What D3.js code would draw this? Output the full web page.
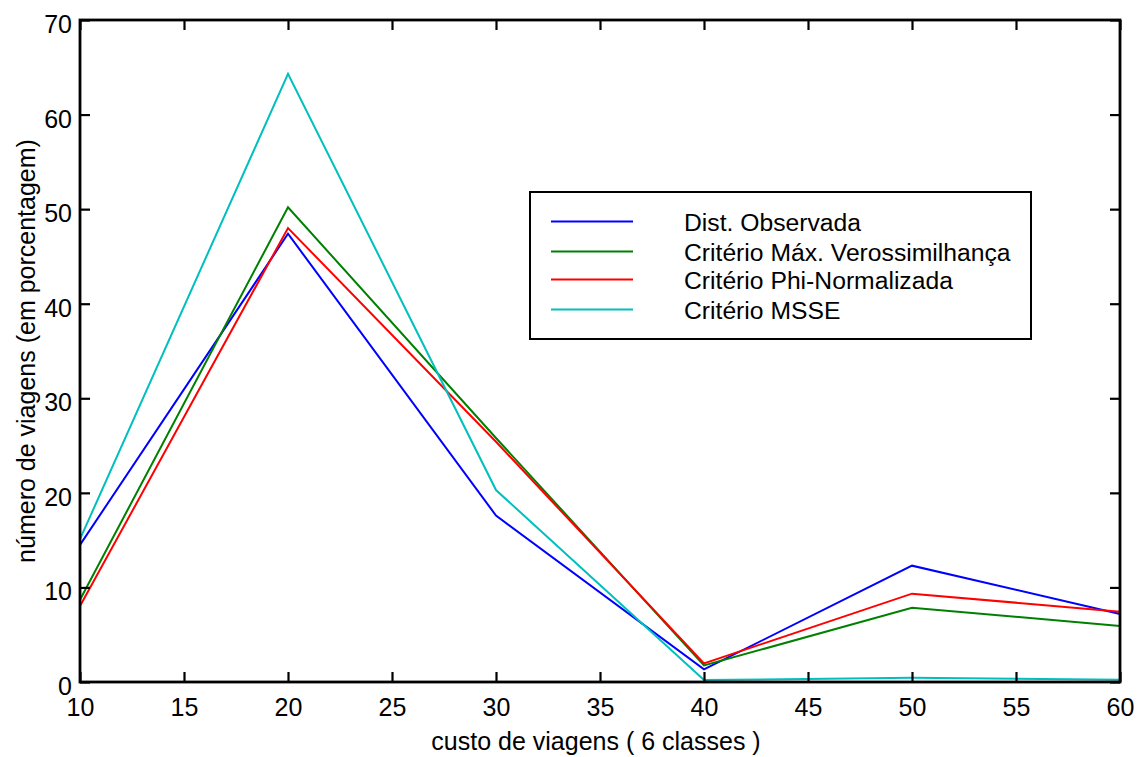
<!DOCTYPE html>
<html><head><meta charset="utf-8">
<script src="https://cdn.jsdelivr.net/npm/d3@7"></script>
<style>
html,body{margin:0;padding:0;background:#fff;}
text{font-family:"Liberation Sans",Arial,Helvetica,sans-serif;fill:#000;}
</style></head>
<body>
<svg id="chart" width="1140" height="757"></svg>
<script>
const xValues = [10, 20, 30, 40, 50, 60];
const observada = [14.5, 47.4, 17.6, 1.33, 12.3, 7.2];
const maxVerossimilhanca = [8.7, 50.2, 25.8, 1.75, 7.86, 5.92];
const phiNormalizada = [8.04, 48.0, 25.4, 1.97, 9.34, 7.43];
const msse = [15.1, 64.3, 20.3, 0.2, 0.45, 0.25];
const seriesNames = ["Dist. Observada", "Critério Máx. Verossimilhança", "Critério Phi-Normalizada", "Critério MSSE"];
const seriesColors = ["#0000ff", "#008000", "#ff0000", "#00bfbf"];
const xTicks = [10, 15, 20, 25, 30, 35, 40, 45, 50, 55, 60];
const yTicks = [0, 10, 20, 30, 40, 50, 60, 70];
const xLabel = "custo de viagens ( 6 classes )";
const yLabel = "número de viagens (em porcentagem)";

const seriesValues = [observada, maxVerossimilhanca, phiNormalizada, msse];

const svg = d3.select("#chart");
const L = 80, R = 1120, T = 20, B = 682;
const x = d3.scaleLinear().domain([10, 60]).range([L, R]);
const y = d3.scaleLinear().domain([0, 70]).range([B, T]);
const fs = 25;

// data lines
const line = d3.line().x((d, i) => x(xValues[i])).y(d => y(d));
seriesValues.forEach((vals, k) => {
  svg.append("path").datum(vals).attr("d", line)
    .attr("fill", "none").attr("stroke", seriesColors[k]).attr("stroke-width", 2)
    .attr("stroke-linejoin", "miter");
});

// axes with inward ticks
const tickLen = 10;
const axB = d3.axisBottom(x).tickValues(xTicks).tickSizeInner(-tickLen).tickSizeOuter(0).tickPadding(16).tickFormat(d3.format("d"));
const axT = d3.axisTop(x).tickValues(xTicks).tickSizeInner(-tickLen).tickSizeOuter(0).tickFormat("");
const axL = d3.axisLeft(y).tickValues(yTicks).tickSizeInner(-tickLen).tickSizeOuter(0).tickPadding(8).tickFormat(d3.format("d"));
const axR = d3.axisRight(y).tickValues(yTicks).tickSizeInner(-tickLen).tickSizeOuter(0).tickFormat("");

function style(g) {
  g.select(".domain").remove();
  g.selectAll(".tick line").attr("stroke", "#000").attr("stroke-width", 2.2);
  g.selectAll("text").style("font-size", fs + "px").attr("fill", "#000");
}
svg.append("g").attr("transform", `translate(0,${B})`).call(axB).call(style)
  .selectAll("text").attr("dy", "0.71em");
svg.append("g").attr("transform", `translate(0,${T})`).call(axT).call(style);
svg.append("g").attr("transform", `translate(${L},0)`).call(axL).call(style)
  .selectAll("text").attr("dy", "0.5em");
svg.append("g").attr("transform", `translate(${R},0)`).call(axR).call(style);

// frame
svg.append("rect").attr("x", L).attr("y", T).attr("width", R - L).attr("height", B - T)
  .attr("fill", "none").attr("stroke", "#000").attr("stroke-width", 2.8);

// axis labels
svg.append("text").attr("x", 596).attr("y", 750).attr("text-anchor", "middle")
  .style("font-size", fs + "px").text(xLabel);
svg.append("text").attr("transform", `translate(35,${(T + B) / 2}) rotate(-90)`)
  .attr("text-anchor", "middle").style("font-size", fs + "px").text(yLabel);

// legend
const lg = svg.append("g");
lg.append("rect").attr("x", 530).attr("y", 192).attr("width", 501).attr("height", 147)
  .attr("fill", "#fff").attr("stroke", "#000").attr("stroke-width", 2);
const legY = [221.5, 251.5, 279.5, 309.5];
seriesNames.forEach((n, k) => {
  lg.append("line").attr("x1", 551).attr("x2", 633).attr("y1", legY[k]).attr("y2", legY[k])
    .attr("stroke", seriesColors[k]).attr("stroke-width", 2);
  lg.append("text").attr("x", 684).attr("y", legY[k] + 9).style("font-size", "24.7px").text(n);
});
</script>
</body></html>
